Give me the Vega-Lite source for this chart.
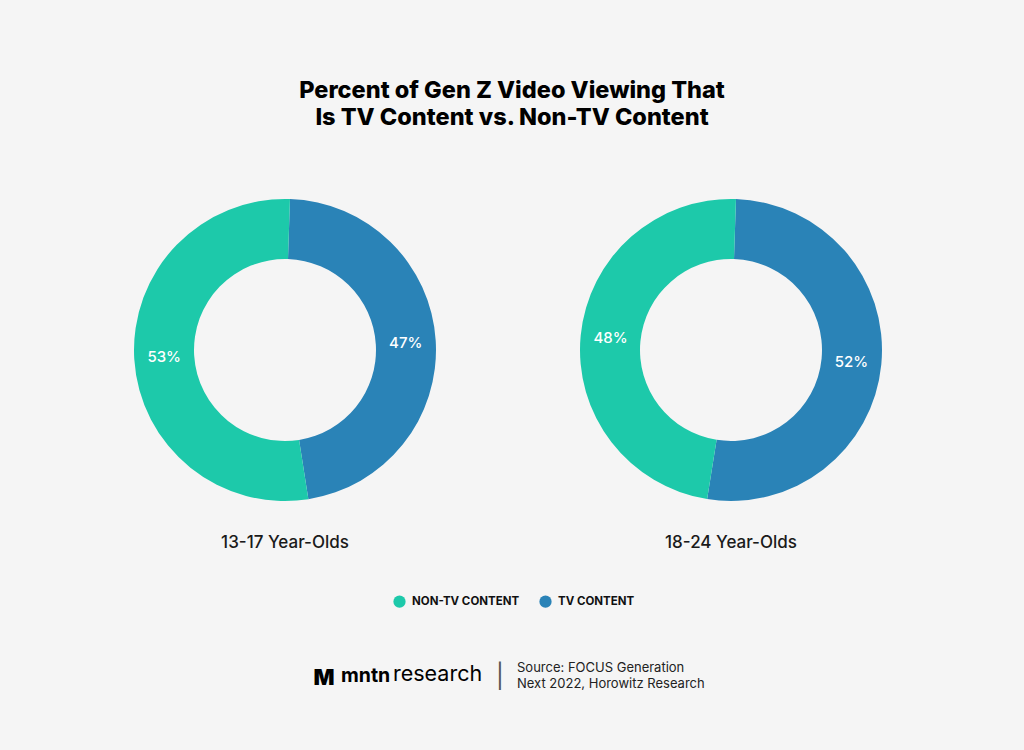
{
  "$schema": "https://vega.github.io/schema/vega-lite/v6.json",
  "width": 1024,
  "height": 600,
  "autosize": {"type": "none"},
  "padding": {"top": 150, "left": 0, "right": 0, "bottom": 0},
  "background": "#f5f5f5",
  "config": {"view": {"stroke": null}},
  "title": {
    "text": ["Percent of Gen Z Video Viewing That", "Is TV Content vs. Non-TV Content"],
    "font": "Inter",
    "fontSize": 23.5,
    "fontWeight": 800,
    "color": "#000000",
    "anchor": "middle",
    "frame": "group",
    "lineHeight": 27,
    "offset": 21
  },
  "datasets": {
    "shares": [
      {"group": "13-17 Year-Olds", "category": "TV Content", "value": 47, "label": "47%"},
      {"group": "13-17 Year-Olds", "category": "Non-TV Content", "value": 53, "label": "53%"},
      {"group": "18-24 Year-Olds", "category": "TV Content", "value": 52, "label": "52%"},
      {"group": "18-24 Year-Olds", "category": "Non-TV Content", "value": 48, "label": "48%"}
    ],
    "groups": [
      {"group": "13-17 Year-Olds"},
      {"group": "18-24 Year-Olds"}
    ]
  },
  "layer": [
    {
      "data": {"name": "shares"},
      "transform": [{"filter": {"field": "group", "equal": "13-17 Year-Olds"}}],
      "encoding": {
        "x": {"field": "group", "type": "nominal", "scale": {"domain": ["13-17 Year-Olds", "18-24 Year-Olds"], "range": [285, 731], "padding": 0}, "axis": null},
        "y": {"datum": "donut", "type": "nominal", "scale": {"domain": ["donut", "caption"], "range": [200, 393], "padding": 0}, "axis": null},
        "theta": {"field": "value", "type": "quantitative", "stack": true, "scale": {"domain": [0, 100], "range": [0.033, 6.3162]}},
        "order": {"field": "category", "sort": "descending"}
      },
      "layer": [
        {
          "mark": {"type": "arc", "innerRadius": 91, "outerRadius": 151},
          "encoding": {
            "color": {"field": "category", "type": "nominal", "scale": {"domain": ["Non-TV Content", "TV Content"], "range": ["#1dc9aa", "#2a83b7"]},
              "legend": {"title": null, "orient": "none", "legendX": 393, "legendY": 445, "direction": "horizontal", "symbolType": "circle", "symbolSize": 150, "symbolStrokeWidth": 0, "symbolOpacity": 1, "labelFont": "Inter", "labelFontWeight": "bold", "labelFontSize": 11.5, "labelColor": "#111111", "labelExpr": "upper(datum.label)", "columnPadding": 19, "labelOffset": 6}}
          }
        },
        {
          "mark": {"type": "text", "radius": 121, "font": "Inter", "fontSize": 15, "fontWeight": 500, "color": "#ffffff", "align": "center", "baseline": "middle"},
          "encoding": {
            "detail": {"field": "category", "type": "nominal"},
            "text": {"field": "label", "type": "nominal"}
          }
        }
      ]
    },
    {
      "data": {"name": "shares"},
      "transform": [{"filter": {"field": "group", "equal": "18-24 Year-Olds"}}],
      "encoding": {
        "x": {"field": "group", "type": "nominal", "scale": {"domain": ["13-17 Year-Olds", "18-24 Year-Olds"], "range": [285, 731], "padding": 0}, "axis": null},
        "y": {"datum": "donut", "type": "nominal", "scale": {"domain": ["donut", "caption"], "range": [200, 393], "padding": 0}, "axis": null},
        "theta": {"field": "value", "type": "quantitative", "stack": true, "scale": {"domain": [0, 100], "range": [0.033, 6.3162]}},
        "order": {"field": "category", "sort": "descending"}
      },
      "layer": [
        {
          "mark": {"type": "arc", "innerRadius": 91, "outerRadius": 151},
          "encoding": {
            "color": {"field": "category", "type": "nominal", "scale": {"domain": ["Non-TV Content", "TV Content"], "range": ["#1dc9aa", "#2a83b7"]},
              "legend": {"title": null, "orient": "none", "legendX": 393, "legendY": 445, "direction": "horizontal", "symbolType": "circle", "symbolSize": 150, "symbolStrokeWidth": 0, "symbolOpacity": 1, "labelFont": "Inter", "labelFontWeight": "bold", "labelFontSize": 11.5, "labelColor": "#111111", "labelExpr": "upper(datum.label)", "columnPadding": 19, "labelOffset": 6}}
          }
        },
        {
          "mark": {"type": "text", "radius": 121, "font": "Inter", "fontSize": 15, "fontWeight": 500, "color": "#ffffff", "align": "center", "baseline": "middle"},
          "encoding": {
            "detail": {"field": "category", "type": "nominal"},
            "text": {"field": "label", "type": "nominal"}
          }
        }
      ]
    },
    {
      "data": {"name": "groups"},
      "mark": {"type": "text", "font": "Inter", "fontSize": 17, "fontWeight": 500, "color": "#1a1a1a", "align": "center", "baseline": "middle"},
      "encoding": {
        "x": {"field": "group", "type": "nominal", "scale": {"domain": ["13-17 Year-Olds", "18-24 Year-Olds"], "range": [285, 731], "padding": 0}, "axis": null},
        "y": {"datum": "caption", "type": "nominal", "scale": {"domain": ["donut", "caption"], "range": [200, 393], "padding": 0}, "axis": null},
        "text": {"field": "group", "type": "nominal"}
      }
    },
    {
      "data": {"values": [{"logo": "M"}]},
      "mark": {"type": "text", "font": "Inter", "fontSize": 22, "fontWeight": 900, "color": "#000000", "align": "center", "baseline": "middle", "dx": -188, "dy": 228},
      "encoding": {"text": {"field": "logo", "type": "nominal"}}
    },
    {
      "data": {"values": [{"brand": "mntn"}]},
      "mark": {"type": "text", "font": "Inter", "fontSize": 19.5, "fontWeight": "bold", "color": "#000000", "align": "left", "baseline": "middle", "dx": -171, "dy": 226},
      "encoding": {"text": {"field": "brand", "type": "nominal"}}
    },
    {
      "data": {"values": [{"brand": "research"}]},
      "mark": {"type": "text", "font": "Inter", "fontSize": 21.5, "fontWeight": "normal", "color": "#000000", "align": "left", "baseline": "middle", "dx": -119, "dy": 225},
      "encoding": {"text": {"field": "brand", "type": "nominal"}}
    },
    {
      "data": {"values": [{"sep": "│"}]},
      "mark": {"type": "text", "font": "DejaVu Sans", "fontSize": 24, "color": "#555555", "align": "center", "baseline": "middle", "dx": -12, "dy": 227},
      "encoding": {"text": {"field": "sep", "type": "nominal"}}
    },
    {
      "data": {"values": [{"source": "Source: FOCUS Generation\nNext 2022, Horowitz Research"}]},
      "mark": {"type": "text", "font": "Inter", "fontSize": 13, "color": "#222222", "align": "left", "baseline": "middle", "lineBreak": "\n", "lineHeight": 16, "dx": 5, "dy": 218},
      "encoding": {"text": {"field": "source", "type": "nominal"}}
    }
  ]
}
